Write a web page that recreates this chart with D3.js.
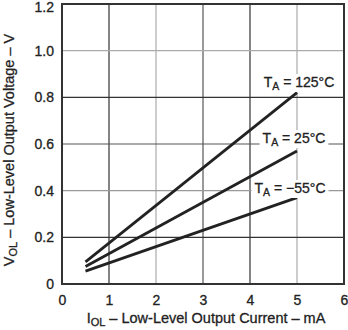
<!DOCTYPE html>
<html>
<head>
<meta charset="utf-8">
<script src="https://cdn.jsdelivr.net/npm/d3@7"></script>
<style>
  html, body { margin: 0; padding: 0; background: #fff; }
  text { font-family: "Liberation Sans", Arial, Helvetica, sans-serif; fill: #222; stroke: #222; stroke-width: 0.3; }
</style>
</head>
<body>
<svg id="chart" width="348" height="330"></svg>
<script>
// Low-level output voltage vs. low-level output current at three ambient temperatures
const currents = [0.5, 5];                 // I_OL (mA), straight-line endpoints
const vol125 = [0.095, 0.82];              // V_OL (V) at TA = 125°C
const vol25  = [0.075, 0.57];              // V_OL (V) at TA = 25°C
const volM55 = [0.055, 0.37];              // V_OL (V) at TA = -55°C
const seriesNames = ["125°C", "25°C", "\u221255°C"];
const xTicks = [0, 1, 2, 3, 4, 5, 6];
const yTicks = [0, 0.2, 0.4, 0.6, 0.8, 1.0, 1.2];

const svg = d3.select("#chart");
const plotL = 62, plotR = 344, plotT = 4, plotB = 284;

const x = d3.scaleLinear().domain([0, 6]).range([plotL, plotR]);
const y = d3.scaleLinear().domain([0, 1.2]).range([plotB, plotT]);

// grid lines (alternating darker / lighter rules)
const vShade = { 1: "#333", 2: "#aaa", 3: "#555", 4: "#333", 5: "#aaa" };
const hShade = { "0.2": "#333", "0.4": "#999", "0.6": "#555", "0.8": "#333", "1.0": "#aaa" };
svg.append("g").selectAll("line").data(xTicks.slice(1, -1)).join("line")
  .attr("x1", d => x(d)).attr("x2", d => x(d))
  .attr("y1", plotT).attr("y2", plotB)
  .attr("stroke", d => vShade[d]).attr("stroke-width", 1.2);
svg.append("g").selectAll("line").data(yTicks.slice(1, -1)).join("line")
  .attr("y1", d => y(d)).attr("y2", d => y(d))
  .attr("x1", plotL).attr("x2", plotR)
  .attr("stroke", d => hShade[d.toFixed(1)]).attr("stroke-width", 1.2);

// series with their label positions
const series = [
  { name: seriesNames[0], vals: vol125, cx: 299, by: 87 },
  { name: seriesNames[1], vals: vol25,  cx: 294, by: 143 },
  { name: seriesNames[2], vals: volM55, cx: 290, by: 193 }
];

const line = d3.line().x(d => x(d[0])).y(d => y(d[1]));
series.forEach(s => {
  svg.append("path")
    .datum(currents.map((c, i) => [c, s.vals[i]]))
    .attr("d", line)
    .attr("fill", "none")
    .attr("stroke", "#222")
    .attr("stroke-width", 2.8)
    .attr("stroke-linecap", "butt");
});

// curve labels with white backing
series.forEach(s => {
  const g = svg.append("g");
  const t = g.append("text")
    .attr("x", s.cx).attr("y", s.by)
    .attr("text-anchor", "middle")
    .attr("font-size", 14);
  t.append("tspan").text("T");
  t.append("tspan").attr("font-size", 10.5).attr("dy", 3).text("A");
  t.append("tspan").attr("dy", -3).text(" = " + s.name);
  const bb = t.node().getBBox();
  g.insert("rect", "text")
    .attr("x", bb.x - 3).attr("y", bb.y)
    .attr("width", bb.width + 6).attr("height", bb.height)
    .attr("fill", "#fff").attr("stroke", "none");
});

// frame
svg.append("rect")
  .attr("x", plotL).attr("y", plotT)
  .attr("width", plotR - plotL).attr("height", plotB - plotT)
  .attr("fill", "none").attr("stroke", "#333").attr("stroke-width", 2);

// axes tick labels
const xAxis = d3.axisBottom(x).tickValues(xTicks).tickSize(0).tickPadding(11)
  .tickFormat(d3.format("d"));
const gx = svg.append("g").attr("transform", `translate(0,${plotB})`).call(xAxis);
gx.select(".domain").remove();
gx.selectAll("text").attr("font-size", 14).attr("fill", "#222")
  .style("font-family", "'Liberation Sans', Arial, sans-serif");

const yAxis = d3.axisLeft(y).tickValues(yTicks).tickSize(0).tickPadding(8)
  .tickFormat(d => d === 0 ? "0" : d3.format(".1f")(d));
const gy = svg.append("g").attr("transform", `translate(${plotL},0)`).call(yAxis);
gy.select(".domain").remove();
gy.selectAll("text").attr("font-size", 14).attr("fill", "#222")
  .style("font-family", "'Liberation Sans', Arial, sans-serif");
// keep the topmost label inside the canvas
gy.selectAll(".tick").filter(d => d === 1.2).select("text").attr("dy", "0.5em");

// axis titles
const xt = svg.append("text")
  .attr("x", 206).attr("y", 323)
  .attr("text-anchor", "middle").attr("font-size", 14.5);
xt.append("tspan").text("I");
xt.append("tspan").attr("font-size", 11).attr("dy", 3).text("OL");
xt.append("tspan").attr("dy", -3).text(" \u2013 Low-Level Output Current \u2013 mA");

const yt = svg.append("text")
  .attr("transform", `translate(14,150) rotate(-90)`)
  .attr("text-anchor", "middle").attr("font-size", 14.5);
yt.append("tspan").text("V");
yt.append("tspan").attr("font-size", 11).attr("dy", 3).text("OL");
yt.append("tspan").attr("dy", -3).text(" \u2013 Low-Level Output Voltage \u2013 V");
</script>
</body>
</html>
